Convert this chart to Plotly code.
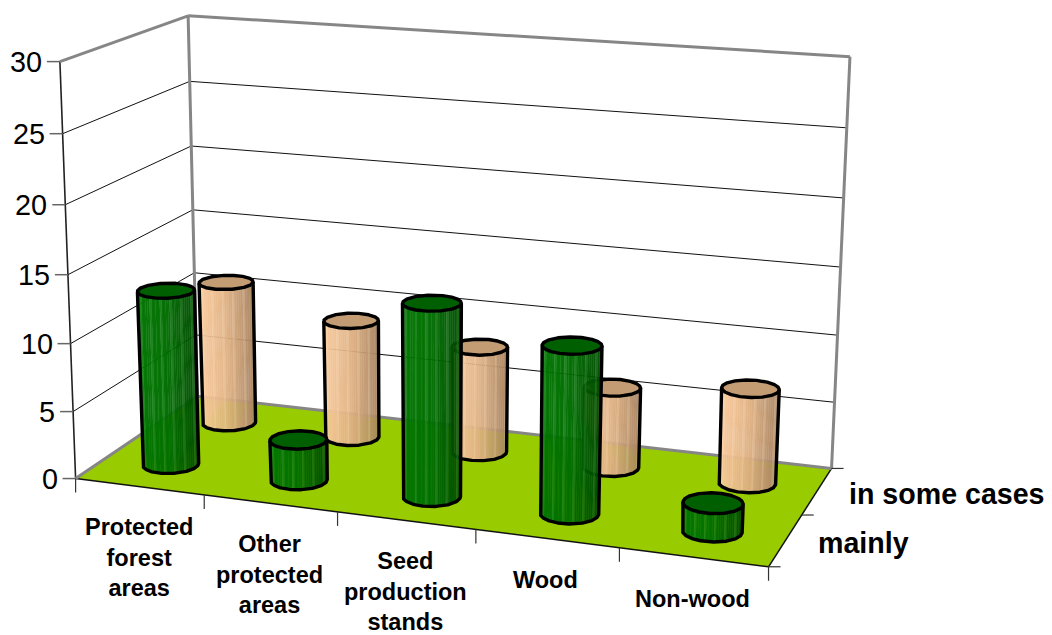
import numpy as np
import plotly.graph_objects as go

categories = ["Protected<br>forest<br>areas", "Other<br>protected<br>areas", "Seed<br>production<br>stands", "Wood", "Non-wood"]
series_names = ["mainly", "in some cases"]
mainly = [13, 3, 14, 12, 2]
in_some_cases = [11, 9, 8, 6, 7]
z_ticks = [0, 5, 10, 15, 20, 25, 30]

W, H = 1052, 635
PAGE_MARGIN = 8
NX, NY, NZ = len(categories), len(series_names), max(z_ticks)
RX, RY = 0.2, 0.2
FONT = "Liberation Sans"
FRAME = "#868686"


def calibrate():
    """Perspective camera of the 3-D plot box, solved from where the box corners sit on the page."""
    box = np.array([[0,0,0],[NX,0,0],[NX,NY,0],[0,NY,0],[0,0,NZ],[0,NY,NZ],[NX,NY,NZ]], float)
    page = np.array([[76,478],[768,568],[832,467],[197,397],[60,61],[188,16],[850,57]], float)
    rows = []
    for (x, y, z), (u, v) in zip(box, page):
        rows.append([x, y, z, 1, 0, 0, 0, 0, -u*x, -u*y, -u*z, -u])
        rows.append([0, 0, 0, 0, x, y, z, 1, -v*x, -v*y, -v*z, -v])
    return np.linalg.svd(np.array(rows))[2][-1].reshape(3, 4)


CAM = calibrate()


def project(x, y, z):
    x, y, z = np.broadcast_arrays(np.asarray(x, float), np.asarray(y, float), np.asarray(z, float))
    q = CAM @ np.stack([x, y, z, np.ones_like(x)])
    return q[0] / q[2], q[1] / q[2]


fig = go.Figure()


def lines(segments, color, width):
    xs, ys = [], []
    for seg in segments:
        xs += list(seg[0]) + [None]
        ys += list(seg[1]) + [None]
    fig.add_trace(go.Scatter(x=xs, y=ys, mode="lines", line=dict(color=color, width=width),
                             hoverinfo="skip", showlegend=False))


def polygons(polys, fill, seam=0.0):
    xs, ys = [], []
    for p in polys:
        xs += list(p[0]) + [p[0][0], None]
        ys += list(p[1]) + [p[1][0], None]
    fig.add_trace(go.Scatter(x=xs, y=ys, mode="lines", fill="toself", fillcolor=fill,
                             line=dict(width=seam, color=fill), hoverinfo="skip", showlegend=False))


def edge(a, b):
    return project([a[0], b[0]], [a[1], b[1]], [a[2], b[2]])


# floor
polygons([project([0, NX, NX, 0], [0, 0, NY, NY], [0, 0, 0, 0])], "#99CC00")

# gridlines on the two walls
grid = []
for v in z_ticks[1:-1]:
    grid.append(project([0, 0, NX], [0, NY, NY], [v, v, v]))
lines(grid, "#111111", 1)

# value axis, floor front and right edges
lines([edge((0, 0, 0), (0, 0, NZ))], "#222222", 1.6)
lines([edge((0, 0, 0), (NX, 0, 0)), edge((NX, 0, 0), (NX, NY, 0))], "#111111", 1.5)

# grey frame
lines([edge((0, 0, NZ), (0, NY, NZ)), edge((0, NY, NZ), (NX, NY, NZ)), edge((NX, NY, NZ), (NX, NY, 0)),
       edge((NX, NY, 0), (0, NY, 0)), edge((0, NY, 0), (0, NY, NZ)), edge((0, NY, 0), (0, 0, 0))], FRAME, 3)


def offset(pt, dx, dy):
    return ([float(pt[0]), float(pt[0]) + dx], [float(pt[1]), float(pt[1]) + dy])


# tick marks
lines([offset(project(0, 0, v), -13, 0) for v in z_ticks], "#666666", 1.5)
lines([offset(project(i, 0, 0), 0, 14) for i in range(NX + 1)], "#333333", 1.2)
lines([offset(project(NX, j, 0), 12, 0) for j in range(NY + 1)], "#333333", 1.2)


def mix(a, b, t):
    return np.array(a, float) + (np.array(b, float) - np.array(a, float)) * t


def cylinder(xc, yc, h, left, mid, right, stripe, cap):
    th = np.linspace(0, 2 * np.pi, 1441)
    ex, ey = xc + RX * np.cos(th), yc + RY * np.sin(th)
    x0, y0 = project(ex, ey, 0)
    x1, y1 = project(ex, ey, h)
    # silhouette: where the generator line is tangent to the projected rim
    cross = (x1 - x0) * np.gradient(y0) - (y1 - y0) * np.gradient(x0)
    idx = np.where(np.sign(cross[:-1]) != np.sign(cross[1:]))[0]
    a, b = idx[0], idx[-1]
    if x0[a] > x0[b]:
        a, b = b, a
    # walk from the left silhouette to the right one round the front of the rim
    t_a, t_b = th[a], th[b]
    if t_a > t_b:
        t_b += 2 * np.pi
    sweep = np.linspace(t_a, t_b, 200)
    if np.sin(sweep[100]) > 0:
        t_a += 2 * np.pi
        sweep = np.linspace(t_a, t_b, 200)
    sx, sy = xc + RX * np.cos(sweep), yc + RY * np.sin(sweep)
    bx, by = project(sx, sy, 0)
    tx, ty = project(sx, sy, h)
    # side strips, evenly spaced across the visible width
    n = int(bx[-1] - bx[0]) // 2
    cuts = np.interp(np.linspace(bx[0], bx[-1], n + 1), bx, np.arange(200)).astype(int)
    groups = {}
    for k in range(n):
        i0, i1 = cuts[k], cuts[k + 1]
        if i1 <= i0:
            continue
        u = (k + 0.5) / n
        col = mix(left, mid, u * 2) if u < 0.5 else mix(mid, right, u * 2 - 1)
        if k % 5 == 1:
            col = mix(col, stripe, 0.2)
        key = "rgba(%d,%d,%d,0.96)" % tuple(col)
        groups.setdefault(key, []).append(([bx[i0], bx[i1], tx[i1], tx[i0]], [by[i0], by[i1], ty[i1], ty[i0]]))
    for key, polys in groups.items():
        polygons(polys, key, seam=0.4)
    # cap
    polygons([(x1, y1)], cap)
    # outline
    ox = list(tx[:1]) + list(bx) + list(tx[-1:])
    oy = list(ty[:1]) + list(by) + list(ty[-1:])
    lines([(ox, oy), (x1, y1)], "#000000", 3.4)


GREEN = dict(left=(0, 118, 0), mid=(0, 110, 0), right=(0, 76, 0), stripe=(120, 190, 120), cap="#005F00")
TAN = dict(left=(250, 204, 158), mid=(224, 178, 132), right=(168, 132, 98), stripe=(255, 235, 210), cap="#C49C74")

for row, vals, style in ((1.5, in_some_cases, TAN), (0.5, mainly, GREEN)):
    for i, v in enumerate(vals):
        cylinder(i + 0.5, row, v, **style)

ann = []
for v in z_ticks:
    px, py = project(0, 0, v)
    ann.append(dict(x=float(px) - 16, y=float(py), text=str(v), xanchor="right", yanchor="middle", showarrow=False,
                    font=dict(family=FONT, size=28.8, color="black")))
for i, c in enumerate(categories):
    px, py = project(i + 0.5, 0, 0)
    nlines = c.count("<br>") + 1
    ann.append(dict(x=float(px) - (1 if i else 0), y=float(py) + (41.5 if i > 2 else 40) + (nlines - 1) * 15.5,
                    text="<b>%s</b>" % c, xanchor="center",
                    yanchor="middle", showarrow=False, font=dict(family=FONT, size=23.5, color="black")))
for j, name in enumerate(series_names):
    px, py = project(NX, j + 0.5, 0)
    ann.append(dict(x=float(px) + 30, y=float(py) + 3, text="<b>%s</b>" % name, xanchor="left", yanchor="middle",
                    showarrow=False, font=dict(family=FONT, size=28.6, color="black")))

fig.update_layout(
    width=W - PAGE_MARGIN, height=H - PAGE_MARGIN, margin=dict(l=0, r=0, t=0, b=0),
    paper_bgcolor="white", plot_bgcolor="white", showlegend=False, annotations=ann,
    xaxis=dict(range=[PAGE_MARGIN, W], visible=False, fixedrange=True),
    yaxis=dict(range=[H, PAGE_MARGIN], visible=False, fixedrange=True),
)
fig.write_html("out.html")
